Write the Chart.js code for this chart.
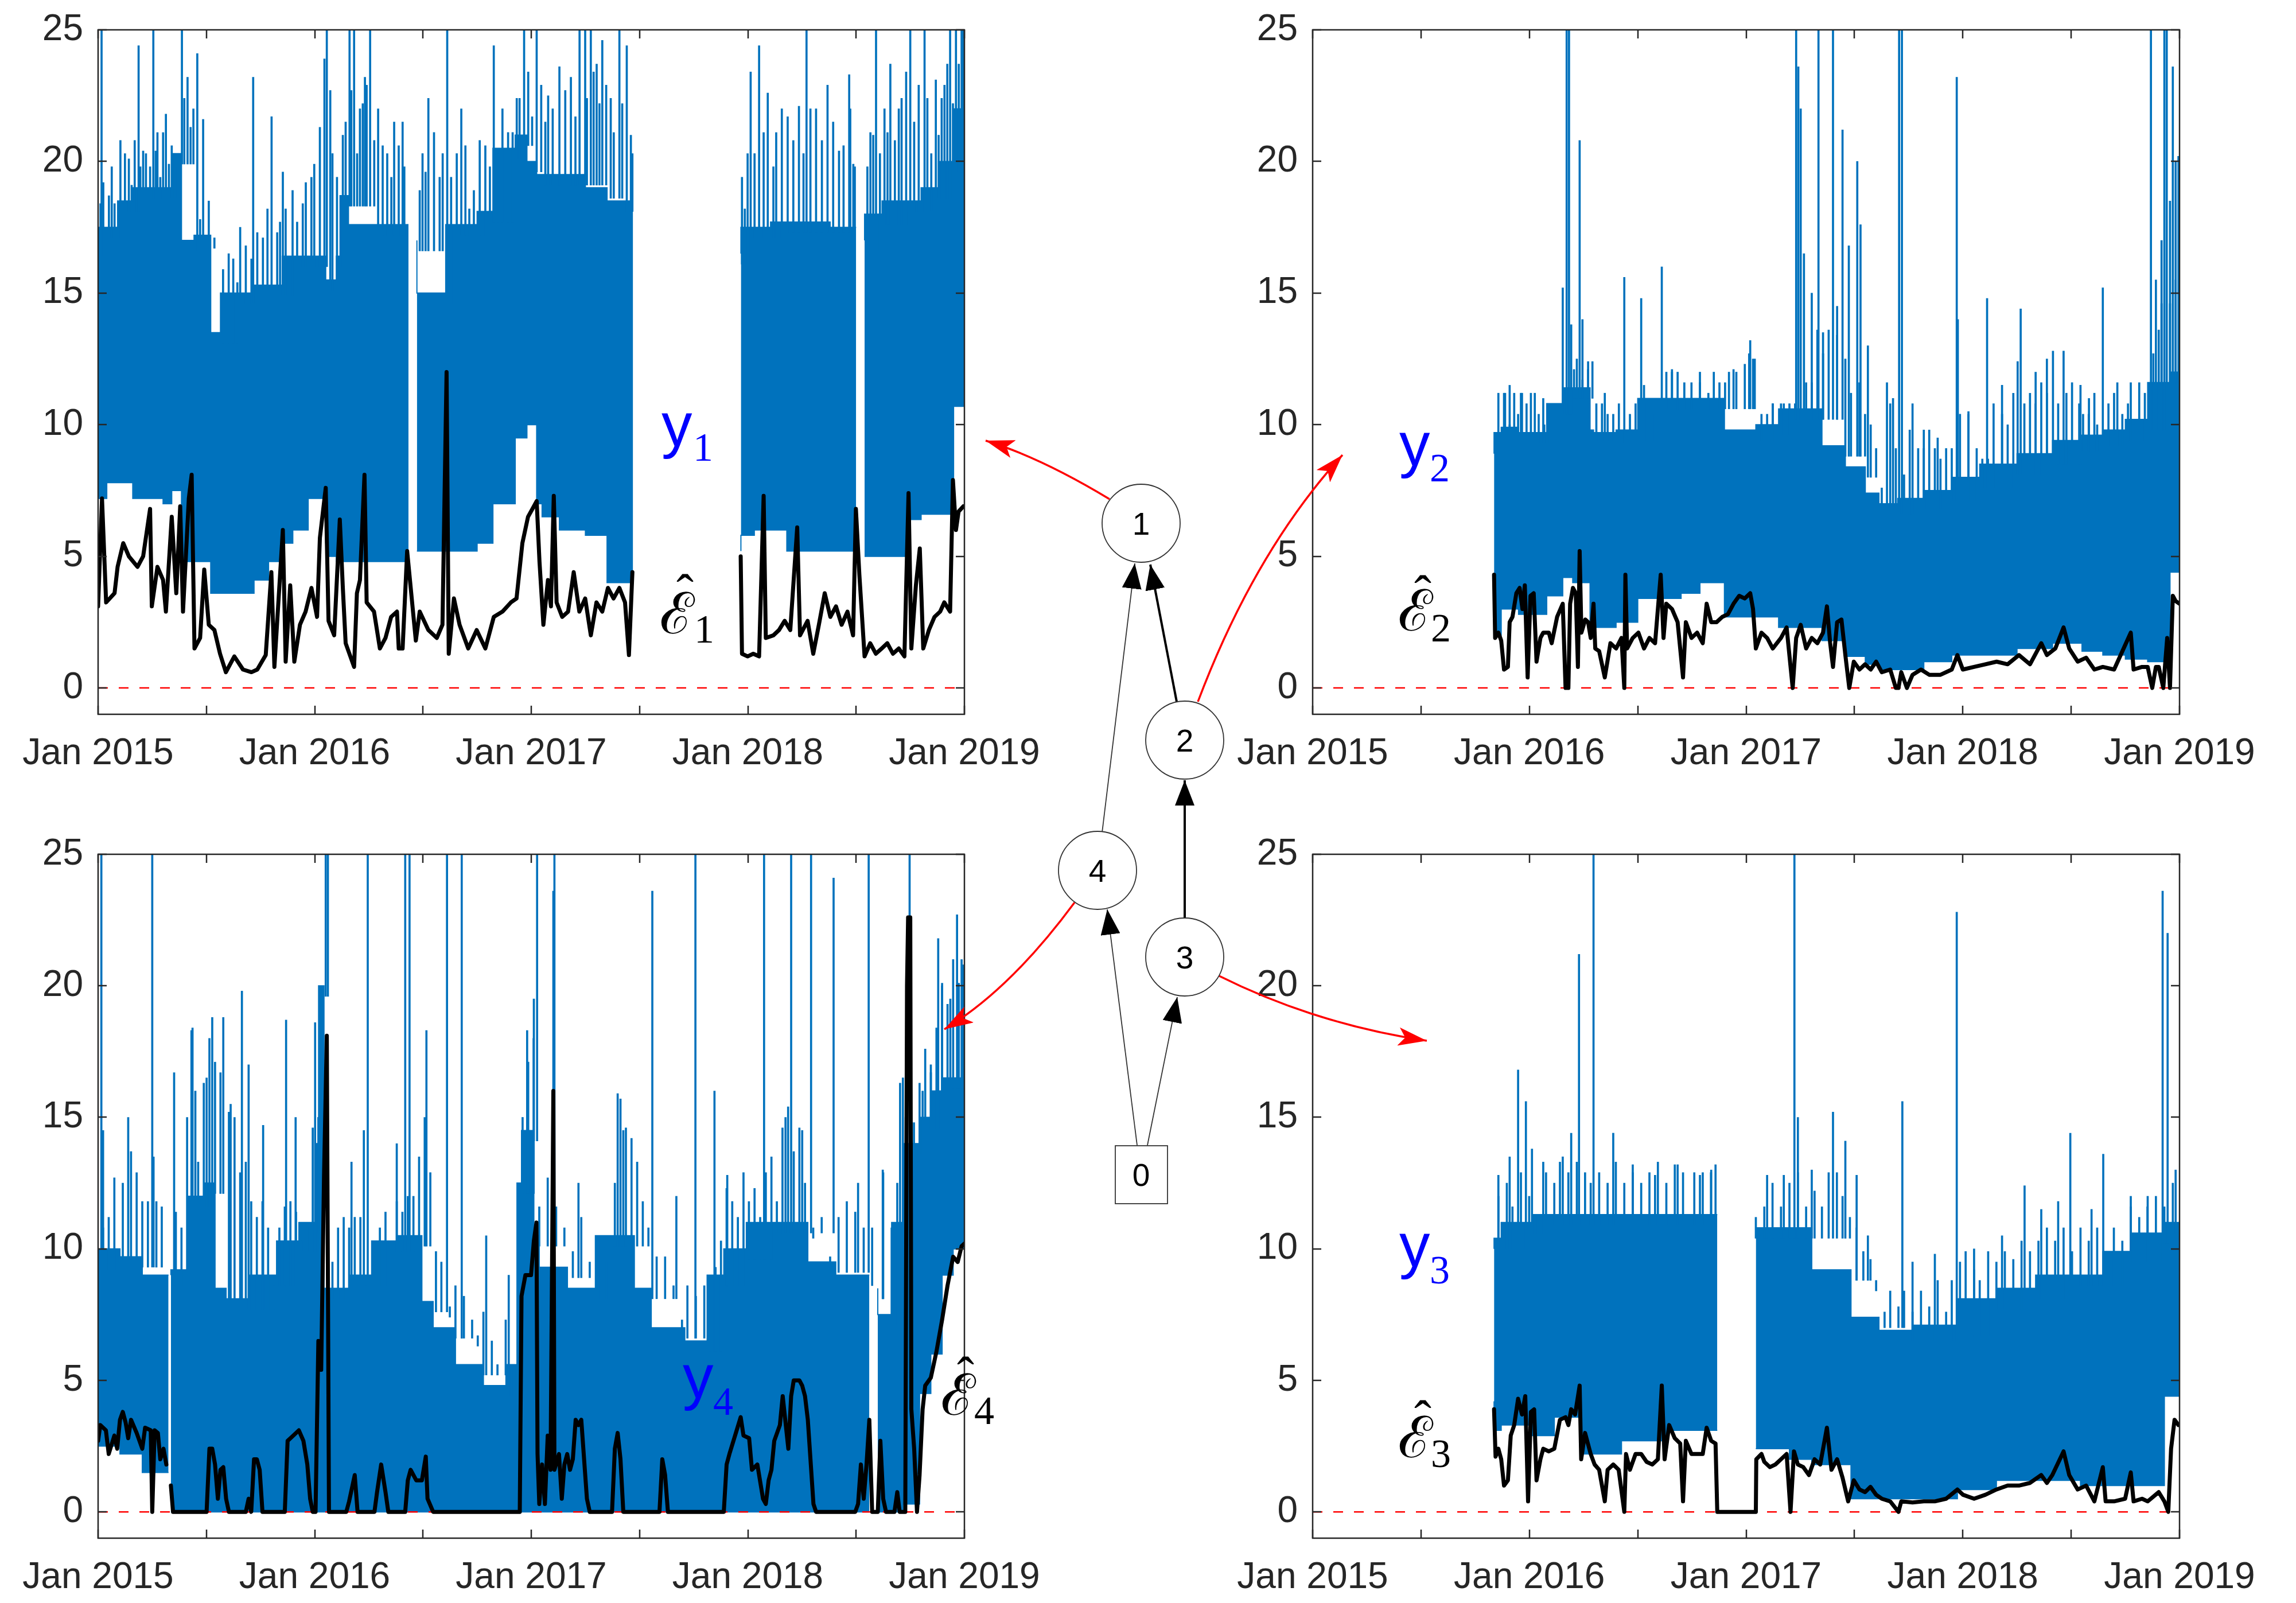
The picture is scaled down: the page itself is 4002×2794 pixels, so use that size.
<!DOCTYPE html>
<html><head><meta charset="utf-8">
<script src="https://cdn.jsdelivr.net/npm/chart.js@4.4.1/dist/chart.umd.min.js"></script>
<style>
html,body{margin:0;padding:0;background:#fff;}
body{width:4002px;height:2794px;position:relative;overflow:hidden;}
canvas{position:absolute;}
svg{position:absolute;left:0;top:0;}
</style></head><body>
<canvas id="c1"></canvas>
<canvas id="c2"></canvas>
<canvas id="c3"></canvas>
<canvas id="c4"></canvas>
<svg width="4002" height="2794" viewBox="0 0 4002 2794" xmlns="http://www.w3.org/2000/svg">
<defs>
<marker id="mb" markerUnits="userSpaceOnUse" markerWidth="44" markerHeight="34" refX="44" refY="17" orient="auto" viewBox="0 0 44 34"><path d="M0,0 L44,17 L0,34 z" fill="#000"/></marker>
<marker id="mr" markerUnits="userSpaceOnUse" markerWidth="50" markerHeight="32" refX="50" refY="16" orient="auto" viewBox="0 0 50 32"><path d="M0,0 L50,16 L0,32 L12,16 z" fill="#f00"/></marker>
</defs>
<g fill="none">
<path d="M1921,1451 L1978,982" stroke="#333" stroke-width="1.8" marker-end="url(#mb)"/>
<path d="M2051,1223 L2005,984" stroke="#000" stroke-width="4" marker-end="url(#mb)"/>
<path d="M2065,1600 L2065,1360" stroke="#000" stroke-width="4" marker-end="url(#mb)"/>
<path d="M1982,1996 L1930,1585" stroke="#333" stroke-width="1.8" marker-end="url(#mb)"/>
<path d="M2000,1996 L2052,1738" stroke="#333" stroke-width="1.8" marker-end="url(#mb)"/>
<path d="M1934,870 Q1813,797 1718,768" stroke="#f00" stroke-width="3.5" marker-end="url(#mr)"/>
<path d="M2088,1223 Q2187,961 2340,793" stroke="#f00" stroke-width="3.5" marker-end="url(#mr)"/>
<path d="M1873,1573 Q1760,1726 1646,1794" stroke="#f00" stroke-width="3.5" marker-end="url(#mr)"/>
<path d="M2125,1701 Q2293,1785 2487,1814" stroke="#f00" stroke-width="3.5" marker-end="url(#mr)"/>
</g>
<g fill="#fff" stroke="#333" stroke-width="1.8">
<circle cx="1989" cy="912" r="68"/>
<circle cx="2065" cy="1290" r="68"/>
<circle cx="1913" cy="1517" r="68"/>
<circle cx="2065" cy="1668" r="68"/>
<rect x="1944" y="1997" width="91" height="101"/>
</g>
<g font-family="Liberation Sans, Arial, sans-serif" font-size="55" fill="#000" text-anchor="middle">
<text x="1989" y="932">1</text>
<text x="2065" y="1310">2</text>
<text x="1913" y="1537">4</text>
<text x="2065" y="1688">3</text>
<text x="1989" y="2067">0</text>
</g>
<g fill="#00f">
<text x="1153" y="778" font-family="Liberation Sans, Arial, sans-serif" font-size="107">y</text>
<text x="1208" y="803" font-family="Liberation Serif, serif" font-size="70">1</text>
<text x="2439" y="812" font-family="Liberation Sans, Arial, sans-serif" font-size="107">y</text>
<text x="2492" y="839" font-family="Liberation Serif, serif" font-size="70">2</text>
<text x="2439" y="2208" font-family="Liberation Sans, Arial, sans-serif" font-size="107">y</text>
<text x="2492" y="2237" font-family="Liberation Serif, serif" font-size="70">3</text>
<text x="1190" y="2437" font-family="Liberation Sans, Arial, sans-serif" font-size="107">y</text>
<text x="1243" y="2466" font-family="Liberation Serif, serif" font-size="70">4</text>
</g>
<g fill="#000">
<text x="1150" y="1104" font-family="DejaVu Serif, serif" font-size="100">ℰ</text>
<text x="1194" y="1064" font-family="Liberation Serif, serif" font-size="90" text-anchor="middle">ˆ</text>
<text x="1210" y="1120" font-family="Liberation Serif, serif" font-size="70">1</text>
<text x="2437" y="1099" font-family="DejaVu Serif, serif" font-size="100">ℰ</text>
<text x="2480" y="1066" font-family="Liberation Serif, serif" font-size="90" text-anchor="middle">ˆ</text>
<text x="2494" y="1118" font-family="Liberation Serif, serif" font-size="70">2</text>
<text x="2437" y="2540" font-family="DejaVu Serif, serif" font-size="100">ℰ</text>
<text x="2480" y="2504" font-family="Liberation Serif, serif" font-size="90" text-anchor="middle">ˆ</text>
<text x="2494" y="2557" font-family="Liberation Serif, serif" font-size="70">3</text>
<text x="1640" y="2466" font-family="DejaVu Serif, serif" font-size="100">ℰ</text>
<text x="1683" y="2428" font-family="Liberation Serif, serif" font-size="90" text-anchor="middle">ˆ</text>
<text x="1698" y="2482" font-family="Liberation Serif, serif" font-size="70">4</text>
</g>
</svg>
<script>
// ---------- axes ----------
const xTickValues = [2015, 2015.5, 2016, 2016.5, 2017, 2017.5, 2018, 2018.5, 2019];
const xTickLabels = ['Jan 2015', '', 'Jan 2016', '', 'Jan 2017', '', 'Jan 2018', '', 'Jan 2019'];
const yTickValues = [0, 5, 10, 15, 20, 25];
const yTickLabels = ['0', '5', '10', '15', '20', '25'];
const yMin = -1, yMax = 25;
const zeroLevel = 0;

// ---------- y1 (top left): dense band [date, low, high] held until next date ----------
const y1Band = [[2015.000,6.8,16.8],[2015.040,7.2,17.5],[2015.090,7.8,17.5],[2015.115,7.8,18.5],[2015.160,7.8,18.5],[2015.230,7.2,19.0],[2015.300,7.2,19.0],[2015.340,7.0,19.0],[2015.385,7.5,20.3],[2015.443,4.8,17.0],[2015.469,4.8,17.2],[2015.520,4.8,17.2],[2015.565,3.6,13.5],[2015.655,3.6,15.0],[2015.720,3.6,15.0],[2015.787,4.1,15.3],[2015.850,4.8,15.3],[2015.899,5.5,16.4],[2015.970,6.0,16.4],[2016.051,7.2,16.4],[2016.060,5.5,15.5],[2016.100,5.0,15.5],[2016.117,4.8,16.4],[2016.156,4.8,18.7],[2016.284,4.8,17.6],[2016.400,4.8,17.6],[2016.433,4.8,17.6],[2016.452,null,null],[2016.472,5.2,17.0],[2016.605,5.2,15.0],[2016.670,5.2,17.6],[2016.750,5.2,17.6],[2016.823,5.5,18.1],[2016.926,7.0,20.5],[2016.980,9.5,21.0],[2017.025,10.0,20.0],[2017.050,7.0,19.5],[2017.130,6.5,19.5],[2017.250,6.0,19.5],[2017.350,5.8,19.0],[2017.440,4.0,18.5],[2017.470,4.0,18.5],[2017.700,null,null],[2017.968,5.2,16.5],[2018.030,5.8,17.5],[2018.105,6.0,17.5],[2018.180,6.0,17.7],[2018.263,5.2,17.7],[2018.380,5.2,17.7],[2018.500,5.2,17.5],[2018.520,null,null],[2018.539,5.0,17.0],[2018.620,5.0,18.0],[2018.737,5.0,18.5],[2018.800,6.4,18.5],[2018.880,6.6,19.0],[2018.950,6.6,20.0],[2018.990,10.7,22.0],[2019.000,10.7,22.0]];
const y1Spikes = [[2015.016,25],[2015.103,20.8],[2015.142,20.1],[2015.187,24.4],[2015.208,20.4],[2015.255,25],[2015.274,21.1],[2015.313,21.8],[2015.353,20.3],[2015.387,25],[2015.413,23.2],[2015.458,24.1],[2015.485,21.6],[2015.603,16.5],[2015.656,17.5],[2015.716,23.2],[2015.735,17.3],[2015.801,21.7],[2015.840,17.7],[2015.853,19.6],[2015.945,18.4],[2015.985,19.4],[2016.045,23.9],[2016.056,25],[2016.072,22.7],[2016.130,21.0],[2016.161,25],[2016.182,25],[2016.209,22.0],[2016.232,23.2],[2016.256,25],[2016.314,20.6],[2016.367,21.5],[2016.406,21.5],[2016.498,20.3],[2016.525,22.4],[2016.577,19.4],[2016.612,25],[2016.677,22.0],[2016.735,18.9],[2016.788,20.6],[2016.827,24.4],[2016.893,21.1],[2016.946,22.4],[2016.967,25],[2017.025,25],[2017.078,22.5],[2017.130,23.6],[2017.183,23.2],[2017.223,25],[2017.249,25],[2017.275,25],[2017.302,23.7],[2017.328,24.6],[2017.367,22.4],[2017.407,25],[2017.441,24.4],[2017.460,21.0],[2017.999,20.3],[2018.013,23.4],[2018.052,24.4],[2018.092,22.6],[2018.131,21.1],[2018.184,21.7],[2018.236,22.1],[2018.271,25],[2018.315,22.0],[2018.368,22.9],[2018.421,20.4],[2018.468,23.3],[2018.487,19.9],[2018.566,21.1],[2018.592,25],[2018.631,22.0],[2018.658,23.7],[2018.710,22.4],[2018.750,25],[2018.789,22.9],[2018.816,25],[2018.868,23.1],[2018.895,22.4],[2018.921,23.7],[2018.934,25],[2018.961,25],[2018.987,25],[2018.995,25]];
const y1Fringe = [[2015.011,18.4],[2015.024,19.2],[2015.050,18.7],[2015.063,19.8],[2015.076,18.4],[2015.124,20.3],[2015.155,19.1],[2015.169,20.8],[2015.195,19.8],[2015.221,20.3],[2015.240,19.8],[2015.266,20.4],[2015.287,19.4],[2015.300,21.1],[2015.327,19.9],[2015.340,20.6],[2015.366,19.8],[2015.398,22.4],[2015.427,21.3],[2015.440,22.0],[2015.471,17.8],[2015.511,18.5],[2015.537,17.1],[2015.577,15.9],[2015.624,16.3],[2015.643,15.4],[2015.682,16.8],[2015.708,16.3],[2015.761,17.1],[2015.782,18.2],[2015.827,17.3],[2015.866,18.2],[2015.898,18.9],[2015.919,17.7],[2015.959,19.2],[2015.998,19.9],[2016.024,21.3],[2016.082,20.3],[2016.103,19.4],[2016.143,21.5],[2016.169,22.7],[2016.196,20.3],[2016.222,22.2],[2016.240,22.9],[2016.275,20.8],[2016.293,22.0],[2016.335,20.3],[2016.354,19.4],[2016.388,20.6],[2016.414,19.8],[2016.485,18.9],[2016.512,19.6],[2016.551,21.1],[2016.591,20.3],[2016.630,19.4],[2016.656,20.3],[2016.696,20.6],[2016.714,18.2],[2016.762,20.8],[2016.809,19.8],[2016.846,20.3],[2016.867,22.0],[2016.914,21.1],[2016.933,22.4],[2016.986,23.4],[2017.004,21.7],[2017.046,22.9],[2017.065,21.5],[2017.099,22.0],[2017.157,22.7],[2017.204,21.7],[2017.257,22.4],[2017.288,23.4],[2017.315,22.2],[2017.346,22.9],[2017.381,21.1],[2017.420,22.2],[2017.467,20.3],[2017.973,19.4],[2017.986,18.2],[2018.031,20.3],[2018.073,21.1],[2018.118,19.8],[2018.157,22.0],[2018.210,20.8],[2018.257,20.3],[2018.289,22.0],[2018.342,20.8],[2018.394,21.5],[2018.442,20.6],[2018.473,22.0],[2018.494,19.8],[2018.552,19.8],[2018.579,21.0],[2018.610,20.3],[2018.645,21.1],[2018.679,20.8],[2018.697,22.0],[2018.731,23.4],[2018.768,21.5],[2018.829,22.4],[2018.847,20.3],[2018.881,21.0],[2018.908,22.9],[2018.947,22.2],[2018.974,23.7]];
const e1Line = [[2015.000,3.1],[2015.018,7.2],[2015.037,3.25],[2015.076,3.6],[2015.090,4.6],[2015.116,5.5],[2015.142,5.0],[2015.182,4.6],[2015.208,5.0],[2015.240,6.8],[2015.248,3.1],[2015.274,4.6],[2015.300,4.1],[2015.313,2.9],[2015.340,6.5],[2015.361,3.6],[2015.379,6.9],[2015.392,2.9],[2015.419,7.2],[2015.432,8.1],[2015.445,1.5],[2015.471,1.9],[2015.490,4.5],[2015.511,2.4],[2015.537,2.2],[2015.563,1.3],[2015.590,0.6],[2015.629,1.2],[2015.669,0.7],[2015.708,0.6],[2015.735,0.7],[2015.774,1.25],[2015.800,4.4],[2015.814,0.8],[2015.853,6.0],[2015.866,1.0],[2015.887,3.9],[2015.906,1.0],[2015.932,2.4],[2015.958,2.9],[2015.985,3.8],[2016.011,2.7],[2016.024,5.7],[2016.051,7.6],[2016.064,2.55],[2016.090,2.0],[2016.116,6.4],[2016.130,3.8],[2016.143,1.7],[2016.182,0.8],[2016.195,3.6],[2016.209,4.1],[2016.230,8.1],[2016.240,3.25],[2016.274,2.9],[2016.301,1.5],[2016.327,1.9],[2016.353,2.7],[2016.380,2.9],[2016.388,1.5],[2016.406,1.5],[2016.427,5.2],[2016.467,1.8],[2016.485,2.9],[2016.525,2.2],[2016.564,1.9],[2016.590,2.4],[2016.609,12.0],[2016.619,1.3],[2016.643,3.4],[2016.669,2.4],[2016.709,1.5],[2016.748,2.2],[2016.788,1.5],[2016.827,2.7],[2016.867,2.9],[2016.906,3.25],[2016.932,3.4],[2016.959,5.5],[2016.985,6.5],[2017.012,6.9],[2017.025,7.1],[2017.038,4.8],[2017.056,2.4],[2017.077,4.1],[2017.091,3.1],[2017.104,7.3],[2017.117,3.25],[2017.143,2.7],[2017.170,2.9],[2017.196,4.4],[2017.222,2.9],[2017.249,3.4],[2017.275,2.0],[2017.301,3.25],[2017.328,2.9],[2017.354,3.8],[2017.380,3.4],[2017.407,3.8],[2017.433,3.25],[2017.451,1.25],[2017.467,4.4],[2017.700,null],[2017.967,5.0],[2017.973,1.3],[2017.999,1.2],[2018.025,1.3],[2018.052,1.2],[2018.073,7.3],[2018.083,1.9],[2018.118,2.0],[2018.144,2.2],[2018.170,2.55],[2018.196,2.2],[2018.228,6.1],[2018.241,2.0],[2018.276,2.55],[2018.302,1.3],[2018.328,2.4],[2018.355,3.6],[2018.381,2.7],[2018.407,3.1],[2018.433,2.4],[2018.460,2.9],[2018.486,2.0],[2018.499,6.8],[2018.515,4.3],[2018.539,1.2],[2018.565,1.7],[2018.591,1.3],[2018.618,1.5],[2018.644,1.7],[2018.670,1.3],[2018.697,1.5],[2018.723,1.2],[2018.742,7.4],[2018.755,1.5],[2018.776,3.9],[2018.794,5.3],[2018.810,1.5],[2018.836,2.2],[2018.862,2.7],[2018.888,2.9],[2018.907,3.25],[2018.934,2.9],[2018.947,7.9],[2018.961,6.0],[2018.973,6.7],[2018.995,6.9]];

// ---------- y2 (top right) ----------
const y2Band = [[2015.837,2.7,8.9],[2015.870,2.0,9.7],[2015.950,3.0,9.9],[2016.012,2.8,9.7],[2016.080,2.8,9.7],[2016.154,3.5,10.8],[2016.200,4.2,11.4],[2016.280,4.0,11.4],[2016.296,2.5,9.8],[2016.400,2.3,9.7],[2016.500,2.5,9.8],[2016.606,3.4,11.0],[2016.700,3.4,11.0],[2016.787,3.6,11.0],[2016.900,4.0,11.0],[2017.045,2.7,9.8],[2017.150,2.7,10.0],[2017.226,2.3,10.6],[2017.350,2.3,10.6],[2017.458,1.8,9.2],[2017.550,1.2,8.4],[2017.613,0.9,7.4],[2017.700,0.7,7.0],[2017.820,0.7,7.2],[2017.949,1.0,7.5],[2018.078,1.25,8.0],[2018.250,1.25,8.5],[2018.414,1.5,8.9],[2018.550,1.7,9.4],[2018.646,1.4,9.6],[2018.750,1.25,9.8],[2018.853,1.1,10.2],[2018.956,1.0,11.6],[2018.980,4.4,12.0],[2019.000,4.4,12.0]];
const y2Spikes = [[2015.883,11.2],[2015.909,11.5],[2015.961,11.2],[2016.064,11.0],[2016.154,15.2],[2016.172,25],[2016.183,25],[2016.193,13.8],[2016.232,20.8],[2016.245,14.0],[2016.271,12.4],[2016.348,11.2],[2016.438,15.6],[2016.516,14.8],[2016.529,11.5],[2016.611,16.0],[2016.658,12.1],[2016.787,12.0],[2016.942,12.1],[2017.019,13.2],[2017.032,12.5],[2017.123,10.8],[2017.174,10.8],[2017.231,25],[2017.241,23.6],[2017.252,22.0],[2017.267,16.5],[2017.303,15.0],[2017.334,25],[2017.355,13.5],[2017.401,25],[2017.420,14.5],[2017.445,21.2],[2017.474,16.8],[2017.513,20.0],[2017.528,17.6],[2017.562,13.0],[2017.650,11.6],[2017.678,11.0],[2017.706,25],[2017.719,25],[2017.768,10.8],[2017.820,9.8],[2017.884,9.5],[2017.972,23.2],[2017.977,14.0],[2018.026,10.5],[2018.112,14.8],[2018.181,11.5],[2018.267,14.4],[2018.336,12.0],[2018.388,12.5],[2018.416,12.8],[2018.465,12.8],[2018.543,11.5],[2018.582,11.0],[2018.646,15.2],[2018.713,11.6],[2018.775,11.6],[2018.868,25],[2018.891,15.5],[2018.917,17.0],[2018.930,25],[2018.941,25],[2018.956,18.5],[2018.969,23.6],[2018.982,20.0],[2018.995,20.2]];
const y2Fringe = [[2015.857,11.2],[2015.888,11.2],[2015.909,10.0],[2015.930,11.2],[2015.948,10.4],[2015.966,11.2],[2015.987,10.8],[2016.007,11.2],[2016.025,11.2],[2016.043,10.4],[2016.069,10.0],[2016.095,10.4],[2016.121,10.4],[2016.206,12.1],[2016.219,12.5],[2016.245,11.7],[2016.271,12.1],[2016.291,12.4],[2016.309,10.8],[2016.335,10.8],[2016.361,10.4],[2016.387,10.4],[2016.413,10.8],[2016.464,10.4],[2016.490,10.8],[2016.542,10.8],[2016.568,10.4],[2016.594,10.4],[2016.632,12.0],[2016.658,12.0],[2016.684,12.0],[2016.715,11.6],[2016.748,11.6],[2016.787,11.6],[2016.826,11.2],[2016.851,12.0],[2016.877,11.6],[2016.903,11.6],[2016.921,12.0],[2016.955,12.0],[2016.994,12.3],[2017.014,12.7],[2017.040,12.5],[2017.071,10.4],[2017.097,10.4],[2017.123,10.8],[2017.161,10.8],[2017.200,10.8],[2017.226,10.8],[2017.277,11.6],[2017.303,11.6],[2017.329,13.6],[2017.355,12.7],[2017.381,13.6],[2017.420,13.4],[2017.458,12.5],[2017.484,11.2],[2017.523,11.6],[2017.549,10.4],[2017.575,10.0],[2017.600,9.1],[2017.626,7.6],[2017.665,10.8],[2017.691,9.1],[2017.729,8.1],[2017.755,9.8],[2017.794,9.1],[2017.820,9.1],[2017.845,9.8],[2017.871,9.1],[2017.897,8.7],[2017.923,9.1],[2017.949,9.1],[2017.987,10.4],[2018.026,10.4],[2018.064,9.1],[2018.090,8.7],[2018.116,8.7],[2018.142,10.8],[2018.181,10.4],[2018.207,10.0],[2018.233,11.2],[2018.253,12.4],[2018.284,10.8],[2018.310,11.2],[2018.336,10.8],[2018.362,11.6],[2018.388,11.2],[2018.440,10.8],[2018.478,11.2],[2018.504,11.6],[2018.537,10.8],[2018.555,10.4],[2018.581,10.4],[2018.607,11.2],[2018.620,10.0],[2018.672,10.8],[2018.698,11.2],[2018.736,10.4],[2018.762,10.8],[2018.788,10.0],[2018.814,11.6],[2018.840,11.2],[2018.879,12.7],[2018.904,13.6],[2018.917,14.6],[2018.956,14.6],[2018.982,15.5]];
const e2Line = [[2015.837,4.3],[2015.842,1.9],[2015.857,2.1],[2015.870,1.8],[2015.883,0.7],[2015.901,0.8],[2015.909,2.5],[2015.922,2.7],[2015.940,3.6],[2015.955,3.8],[2015.968,3.0],[2015.979,3.9],[2015.992,0.4],[2016.005,3.5],[2016.020,3.6],[2016.033,1.0],[2016.051,1.9],[2016.064,2.1],[2016.090,2.1],[2016.103,1.7],[2016.128,2.7],[2016.154,3.2],[2016.167,0],[2016.180,0],[2016.188,3.2],[2016.201,3.8],[2016.214,3.6],[2016.224,0.8],[2016.232,5.2],[2016.240,2.1],[2016.258,2.6],[2016.271,2.5],[2016.283,1.9],[2016.296,3.2],[2016.304,1.5],[2016.322,1.4],[2016.348,0.4],[2016.374,1.7],[2016.400,1.5],[2016.425,1.9],[2016.438,0],[2016.443,4.3],[2016.451,1.5],[2016.477,1.9],[2016.503,2.1],[2016.529,1.5],[2016.554,1.9],[2016.580,1.7],[2016.606,4.3],[2016.619,1.9],[2016.632,3.2],[2016.658,3.0],[2016.684,2.5],[2016.709,0.4],[2016.722,2.5],[2016.748,1.9],[2016.774,2.1],[2016.800,1.7],[2016.818,3.2],[2016.839,2.5],[2016.864,2.5],[2016.890,2.7],[2016.916,2.8],[2016.942,3.2],[2016.968,3.5],[2016.994,3.4],[2017.019,3.6],[2017.032,3.0],[2017.045,1.5],[2017.071,2.1],[2017.097,1.9],[2017.123,1.5],[2017.161,1.9],[2017.187,2.3],[2017.215,0],[2017.231,1.9],[2017.252,2.4],[2017.277,1.5],[2017.303,1.9],[2017.329,1.7],[2017.355,2.1],[2017.373,3.1],[2017.388,1.7],[2017.401,0.8],[2017.420,2.5],[2017.440,2.6],[2017.458,1.25],[2017.476,0],[2017.497,1.0],[2017.523,0.7],[2017.549,0.9],[2017.575,0.7],[2017.600,1.0],[2017.626,0.6],[2017.665,0.7],[2017.691,0],[2017.703,0],[2017.716,0.6],[2017.742,0],[2017.768,0.5],[2017.807,0.7],[2017.845,0.5],[2017.897,0.5],[2017.949,0.7],[2017.975,1.25],[2018.000,0.7],[2018.052,0.8],[2018.104,0.9],[2018.156,1.0],[2018.207,0.9],[2018.259,1.25],[2018.310,0.9],[2018.362,1.7],[2018.388,1.25],[2018.427,1.5],[2018.465,2.3],[2018.491,1.5],[2018.530,1.0],[2018.569,1.15],[2018.607,0.7],[2018.646,0.8],[2018.698,0.7],[2018.775,2.1],[2018.788,0.7],[2018.827,0.8],[2018.853,0.8],[2018.874,0],[2018.891,0.8],[2018.904,0.8],[2018.925,0],[2018.943,1.9],[2018.956,0],[2018.969,3.5],[2018.982,3.3],[2019.000,3.2]];

// ---------- y3 (bottom right) ----------
const y3Band = [[2015.837,4.2,10.0],[2015.870,3.1,10.4],[2016.012,3.3,11.0],[2016.115,2.9,11.3],[2016.245,3.6,11.3],[2016.300,2.2,11.3],[2016.425,2.2,11.3],[2016.632,2.7,11.3],[2016.787,3.1,11.3],[2016.867,3.1,11.3],[2016.872,null,null],[2017.045,2.4,10.8],[2017.200,2.4,10.8],[2017.303,2.0,10.8],[2017.484,1.8,9.2],[2017.613,0.5,7.4],[2017.768,0.5,6.9],[2017.975,0.5,7.1],[2018.155,0.85,8.1],[2018.336,1.2,8.5],[2018.543,1.2,9.0],[2018.646,1.0,9.0],[2018.775,1.0,9.9],[2018.930,1.0,10.6],[2018.956,4.4,11.0],[2019.000,4.4,11.0]];
const y3Spikes = [[2015.857,12.8],[2015.909,13.5],[2015.948,16.8],[2015.984,15.6],[2016.012,13.8],[2016.064,13.3],[2016.141,13.3],[2016.193,14.4],[2016.229,21.2],[2016.296,25],[2016.387,14.4],[2016.477,13.2],[2016.580,12.8],[2016.684,13.2],[2016.787,12.8],[2016.839,13.0],[2017.097,12.8],[2017.174,12.8],[2017.223,25],[2017.239,15.0],[2017.303,13.0],[2017.401,15.2],[2017.458,14.1],[2017.510,12.8],[2017.562,10.5],[2017.721,15.6],[2017.768,9.5],[2017.871,9.8],[2017.972,22.8],[2018.052,10.0],[2018.181,10.5],[2018.285,12.4],[2018.362,11.5],[2018.440,11.8],[2018.496,14.4],[2018.594,11.5],[2018.648,13.6],[2018.775,12.0],[2018.853,12.0],[2018.922,23.6],[2018.945,22.0],[2018.982,13.0]];
const y3Fringe = [[2015.857,12.0],[2015.896,12.5],[2015.922,11.6],[2015.961,12.9],[2015.999,12.0],[2016.038,11.2],[2016.077,12.9],[2016.115,12.5],[2016.154,13.5],[2016.180,12.9],[2016.219,13.3],[2016.257,12.9],[2016.283,12.5],[2016.322,12.9],[2016.361,12.5],[2016.399,13.3],[2016.438,12.5],[2016.477,12.9],[2016.516,12.5],[2016.554,12.9],[2016.593,13.3],[2016.632,12.5],[2016.671,13.2],[2016.709,12.9],[2016.761,12.9],[2016.800,12.9],[2016.838,12.9],[2016.859,13.2],[2017.045,11.2],[2017.084,11.6],[2017.122,12.5],[2017.161,11.6],[2017.200,12.5],[2017.239,12.9],[2017.277,11.6],[2017.316,12.2],[2017.350,11.6],[2017.381,12.9],[2017.419,12.9],[2017.445,12.0],[2017.479,11.2],[2017.510,10.8],[2017.541,9.9],[2017.574,9.6],[2017.600,8.8],[2017.639,7.6],[2017.665,8.4],[2017.703,7.8],[2017.729,8.4],[2017.768,7.6],[2017.807,8.4],[2017.845,7.8],[2017.884,8.8],[2017.923,7.6],[2017.949,8.8],[2017.987,9.5],[2018.013,9.9],[2018.052,9.2],[2018.078,8.8],[2018.117,9.9],[2018.155,9.5],[2018.194,9.9],[2018.233,9.6],[2018.271,10.3],[2018.310,9.9],[2018.349,10.3],[2018.388,10.8],[2018.426,10.3],[2018.465,10.8],[2018.504,9.9],[2018.543,10.8],[2018.581,10.3],[2018.620,10.8],[2018.659,9.9],[2018.697,10.8],[2018.736,10.3],[2018.775,11.6],[2018.814,11.2],[2018.852,11.6],[2018.891,12.0],[2018.930,11.6],[2018.969,12.5]];
const e3Line = [[2015.837,3.9],[2015.844,2.1],[2015.857,2.4],[2015.870,2.0],[2015.883,1.0],[2015.901,1.2],[2015.914,2.9],[2015.930,3.3],[2015.948,4.3],[2015.966,3.7],[2015.981,4.4],[2015.994,0.4],[2016.007,3.8],[2016.022,3.9],[2016.033,1.2],[2016.051,2.0],[2016.064,2.4],[2016.090,2.3],[2016.115,2.4],[2016.141,3.5],[2016.167,3.6],[2016.180,3.3],[2016.193,3.9],[2016.211,3.7],[2016.232,4.8],[2016.239,2.0],[2016.257,3.0],[2016.283,2.2],[2016.301,1.8],[2016.322,1.6],[2016.348,0.4],[2016.361,1.6],[2016.387,1.8],[2016.412,1.6],[2016.438,0],[2016.446,2.2],[2016.464,1.6],[2016.490,2.2],[2016.516,2.2],[2016.541,1.9],[2016.567,1.8],[2016.593,2.0],[2016.611,4.8],[2016.624,2.0],[2016.645,3.3],[2016.671,2.8],[2016.696,2.6],[2016.709,0.4],[2016.722,2.7],[2016.748,2.2],[2016.774,2.2],[2016.800,2.2],[2016.818,3.2],[2016.839,2.7],[2016.859,2.6],[2016.867,0],[2017.045,0],[2017.047,2.0],[2017.071,2.2],[2017.084,1.9],[2017.110,1.7],[2017.135,1.8],[2017.161,2.0],[2017.187,2.2],[2017.205,0],[2017.221,2.3],[2017.239,1.8],[2017.264,1.7],[2017.290,1.4],[2017.316,2.0],[2017.342,1.8],[2017.373,3.2],[2017.394,1.6],[2017.420,2.0],[2017.445,1.3],[2017.471,0.4],[2017.497,1.2],[2017.523,0.85],[2017.549,0.75],[2017.574,0.95],[2017.600,0.65],[2017.626,0.5],[2017.665,0.4],[2017.703,0],[2017.716,0.4],[2017.768,0.36],[2017.820,0.4],[2017.871,0.4],[2017.923,0.5],[2017.975,0.85],[2018.001,0.65],[2018.052,0.5],[2018.104,0.65],[2018.155,0.85],[2018.207,1.0],[2018.259,1.0],[2018.310,1.1],[2018.362,1.4],[2018.388,1.1],[2018.413,1.4],[2018.465,2.3],[2018.491,1.4],[2018.530,0.85],[2018.569,1.0],[2018.607,0.4],[2018.646,1.7],[2018.659,0.4],[2018.698,0.4],[2018.749,0.5],[2018.775,1.5],[2018.788,0.4],[2018.827,0.5],[2018.853,0.4],[2018.904,0.75],[2018.930,0.4],[2018.948,0],[2018.961,2.4],[2018.977,3.5],[2018.995,3.3]];

// ---------- y4 (bottom left) ----------
const y4Band = [[2015.000,2.5,9.6],[2015.101,2.5,10.0],[2015.204,2.2,9.7],[2015.325,1.5,9.0],[2015.330,null,null],[2015.336,0,9.0],[2015.411,0,9.2],[2015.488,0,12.0],[2015.540,0,12.5],[2015.591,0,8.5],[2015.695,0,8.1],[2015.824,0,9.0],[2015.927,0,10.3],[2016.005,0,11.0],[2016.018,0,14.0],[2016.043,0,20.0],[2016.069,0,8.5],[2016.159,0,8.5],[2016.263,0,9.0],[2016.379,0,10.3],[2016.495,0,10.5],[2016.547,0,8.0],[2016.650,0,7.0],[2016.779,0,5.6],[2016.883,0,4.8],[2016.934,0,5.6],[2016.955,0,12.5],[2017.012,0,14.5],[2017.037,0,10.5],[2017.167,0,9.3],[2017.296,0,8.5],[2017.386,0,10.5],[2017.476,0,10.5],[2017.554,0,8.5],[2017.709,0,7.0],[2017.812,0,6.5],[2017.889,0,9.0],[2017.993,0,10.0],[2018.122,0,11.0],[2018.277,0,11.0],[2018.406,0,9.5],[2018.561,0,9.0],[2018.580,null,null],[2018.600,0,8.5],[2018.664,0,7.5],[2018.716,0,11.0],[2018.793,0.3,14.0],[2018.845,4.5,15.0],[2018.897,6.0,16.0],[2018.948,9.0,16.5],[2019.000,10.0,16.5]];
const y4Spikes = [[2015.015,25],[2015.023,14.5],[2015.139,15.0],[2015.250,25],[2015.256,13.5],[2015.351,16.7],[2015.431,18.3],[2015.449,16.0],[2015.501,16.5],[2015.527,18.8],[2015.578,18.8],[2015.612,15.5],[2015.664,19.8],[2015.695,17.0],[2015.762,14.7],[2015.868,18.7],[2015.912,15.0],[2016.002,18.6],[2016.051,25],[2016.061,25],[2016.170,13.3],[2016.227,14.5],[2016.245,25],[2016.379,14.0],[2016.418,25],[2016.438,25],[2016.516,18.3],[2016.611,25],[2016.679,25],[2016.792,10.5],[2016.896,9.0],[2016.981,18.3],[2017.012,19.5],[2017.027,25],[2017.102,23.6],[2017.107,25],[2017.218,12.5],[2017.399,15.9],[2017.425,14.5],[2017.559,23.6],[2017.670,12.0],[2017.758,25],[2017.846,16.0],[2017.905,12.8],[2018.075,25],[2018.174,15.0],[2018.200,25],[2018.251,14.5],[2018.292,25],[2018.396,24.1],[2018.509,12.5],[2018.558,25],[2018.623,13.0],[2018.690,12.5],[2018.716,16.5],[2018.747,25],[2018.807,16.0],[2018.845,17.0],[2018.879,21.8],[2018.897,20.0],[2018.935,19.5],[2018.966,22.7],[2018.987,21.0]];
const y4Fringe = [[2015.023,10.8],[2015.049,11.2],[2015.075,12.7],[2015.114,12.5],[2015.152,13.7],[2015.178,12.9],[2015.204,11.8],[2015.230,11.8],[2015.269,11.8],[2015.294,11.6],[2015.359,11.4],[2015.385,10.8],[2015.411,15.0],[2015.436,18.4],[2015.462,13.3],[2015.488,16.3],[2015.514,18.0],[2015.540,17.1],[2015.565,16.7],[2015.604,15.2],[2015.630,15.0],[2015.656,12.9],[2015.682,13.3],[2015.707,11.8],[2015.733,11.2],[2015.759,11.8],[2015.785,10.8],[2015.811,8.6],[2015.837,10.8],[2015.862,11.6],[2015.888,11.8],[2015.914,11.4],[2015.940,10.3],[2015.966,10.8],[2015.991,14.6],[2016.017,15.0],[2016.082,9.5],[2016.108,10.8],[2016.134,11.2],[2016.159,10.8],[2016.185,11.2],[2016.211,11.2],[2016.237,8.6],[2016.276,9.5],[2016.301,10.8],[2016.327,11.4],[2016.353,10.3],[2016.379,11.8],[2016.405,11.4],[2016.430,12.0],[2016.456,12.0],[2016.482,13.5],[2016.508,15.0],[2016.534,12.9],[2016.560,9.9],[2016.585,9.5],[2016.624,7.8],[2016.650,8.6],[2016.689,8.2],[2016.727,7.3],[2016.753,6.7],[2016.779,7.6],[2016.818,6.5],[2016.844,5.6],[2016.882,7.3],[2016.908,5.4],[2016.960,15.0],[2016.986,17.1],[2017.011,18.0],[2017.037,11.6],[2017.076,12.7],[2017.115,11.6],[2017.153,10.8],[2017.192,9.9],[2017.231,11.2],[2017.270,9.5],[2017.308,10.3],[2017.347,9.5],[2017.386,12.5],[2017.412,15.7],[2017.437,14.6],[2017.463,14.2],[2017.489,13.3],[2017.515,11.8],[2017.541,10.8],[2017.579,9.7],[2017.618,9.7],[2017.657,8.6],[2017.696,7.3],[2017.721,8.6],[2017.760,8.2],[2017.799,8.6],[2017.825,7.3],[2017.851,9.3],[2017.876,10.3],[2017.902,12.3],[2017.928,11.8],[2017.954,11.2],[2017.980,12.9],[2018.005,11.8],[2018.031,12.3],[2018.057,11.2],[2018.083,12.9],[2018.109,13.5],[2018.134,11.8],[2018.160,14.6],[2018.186,15.4],[2018.212,13.7],[2018.238,14.6],[2018.264,12.5],[2018.302,10.8],[2018.341,11.2],[2018.380,9.7],[2018.419,11.2],[2018.457,11.8],[2018.496,11.4],[2018.535,10.8],[2018.574,10.8],[2018.625,12.9],[2018.664,10.8],[2018.703,16.3],[2018.729,15.0],[2018.767,14.8],[2018.793,16.3],[2018.819,17.6],[2018.845,16.7],[2018.871,18.4],[2018.897,20.1],[2018.922,19.3],[2018.948,21.0],[2018.974,20.1],[2018.995,20.8]];
const e4Line = [[2015.000,2.7],[2015.010,3.3],[2015.036,3.1],[2015.049,2.2],[2015.075,2.9],[2015.088,2.4],[2015.101,3.5],[2015.114,3.8],[2015.127,3.4],[2015.139,2.8],[2015.152,3.5],[2015.178,3.0],[2015.204,2.4],[2015.217,3.2],[2015.243,3.1],[2015.250,0],[2015.261,3.1],[2015.276,3.0],[2015.287,2.0],[2015.302,2.4],[2015.315,1.8],[2015.330,null],[2015.336,1.0],[2015.346,0],[2015.501,0],[2015.514,2.4],[2015.527,2.4],[2015.540,1.8],[2015.553,0.5],[2015.565,1.6],[2015.578,1.7],[2015.591,0.5],[2015.604,0],[2015.682,0],[2015.695,0.5],[2015.707,0],[2015.720,2.0],[2015.733,2.0],[2015.746,1.6],[2015.759,0],[2015.862,0],[2015.875,2.7],[2015.901,2.9],[2015.927,3.1],[2015.948,2.7],[2015.966,1.8],[2015.979,0.5],[2015.991,0],[2016.004,0],[2016.017,6.5],[2016.030,5.4],[2016.043,12.7],[2016.056,18.1],[2016.066,0],[2016.146,0],[2016.159,0.4],[2016.185,1.4],[2016.198,0],[2016.276,0],[2016.288,0.75],[2016.307,1.8],[2016.327,0.75],[2016.340,0],[2016.418,0],[2016.430,1.2],[2016.443,1.6],[2016.469,1.2],[2016.495,1.2],[2016.513,2.1],[2016.521,0.5],[2016.547,0],[2016.947,0],[2016.955,8.2],[2016.973,9.0],[2016.999,9.0],[2017.012,10.3],[2017.024,11.0],[2017.029,2.2],[2017.037,0.3],[2017.050,1.8],[2017.063,0.3],[2017.076,2.9],[2017.089,1.6],[2017.102,16.0],[2017.107,1.6],[2017.128,2.2],[2017.141,0.5],[2017.153,1.8],[2017.166,2.2],[2017.179,1.6],[2017.192,2.0],[2017.205,3.5],[2017.218,3.3],[2017.231,3.5],[2017.244,2.0],[2017.257,0.5],[2017.270,0],[2017.373,0],[2017.386,2.4],[2017.399,3.0],[2017.412,2.0],[2017.425,0],[2017.592,0],[2017.605,2.0],[2017.618,1.4],[2017.631,0],[2017.889,0],[2017.902,1.8],[2017.915,2.2],[2017.941,2.9],[2017.967,3.6],[2017.980,2.9],[2018.006,2.8],[2018.019,1.6],[2018.044,1.8],[2018.070,0.5],[2018.083,0.3],[2018.096,1.2],[2018.109,1.6],[2018.122,2.7],[2018.148,3.3],[2018.161,4.4],[2018.174,3.4],[2018.187,2.4],[2018.200,4.4],[2018.212,5.0],[2018.238,5.0],[2018.251,4.8],[2018.264,4.4],[2018.277,3.5],[2018.303,0.3],[2018.315,0],[2018.496,0],[2018.509,0.3],[2018.522,1.8],[2018.535,0.5],[2018.548,1.8],[2018.561,3.5],[2018.574,0],[2018.600,0],[2018.612,2.7],[2018.625,0.5],[2018.638,0],[2018.677,0],[2018.690,0.75],[2018.701,0],[2018.727,0],[2018.735,20.0],[2018.740,22.6],[2018.750,22.6],[2018.755,3.9],[2018.768,2.4],[2018.781,0],[2018.793,1.4],[2018.807,3.9],[2018.819,4.8],[2018.845,5.1],[2018.871,6.1],[2018.897,7.3],[2018.922,8.6],[2018.948,9.7],[2018.969,9.5],[2018.987,10.1],[2019.000,10.2]];

// ---------- styling / layout ----------
const BLUE = '#0072BD', AXIS = '#262626';
const PLOT_W_LEFT = 171, PAD_TOP = 40, PAD_RIGHT = 160, XAXIS_H = 130;
const panels = [
  {id: 'c1', left: 171, top: 52, w: 1510, h: 1193, band: y1Band, spikes: y1Spikes.concat(y1Fringe), est: e1Line},
  {id: 'c2', left: 2288, top: 52, w: 1511, h: 1193, band: y2Band, spikes: y2Spikes.concat(y2Fringe), est: e2Line},
  {id: 'c3', left: 2288, top: 1489, w: 1511, h: 1192, band: y3Band, spikes: y3Spikes.concat(y3Fringe), est: e3Line},
  {id: 'c4', left: 171, top: 1489, w: 1510, h: 1192, band: y4Band, spikes: y4Spikes.concat(y4Fringe), est: e4Line}
];

// band top (held value) at a date, used as the foot of each thin spike
function bandTopAt(band, x) {
  for (let i = band.length - 1; i >= 0; i--) {
    if (band[i][0] <= x) return band[i][2];
  }
  return null;
}

const boxPlugin = {
  id: 'matlabBox',
  afterDatasetsDraw(chart) {
    const {ctx, chartArea: a, scales: {x, y}} = chart;
    ctx.save();
    ctx.strokeStyle = AXIS;
    ctx.lineWidth = 2.5;
    ctx.strokeRect(a.left, a.top, a.right - a.left, a.bottom - a.top);
    const tl = 15;
    ctx.beginPath();
    xTickValues.forEach(v => {
      const px = Math.round(x.getPixelForValue(v));
      ctx.moveTo(px, a.bottom); ctx.lineTo(px, a.bottom - tl);
      ctx.moveTo(px, a.top); ctx.lineTo(px, a.top + tl);
    });
    yTickValues.forEach(v => {
      const py = Math.round(y.getPixelForValue(v));
      ctx.moveTo(a.left, py); ctx.lineTo(a.left + tl, py);
      ctx.moveTo(a.right, py); ctx.lineTo(a.right - tl, py);
    });
    ctx.stroke();
    ctx.restore();
  }
};

panels.forEach(p => {
  const cv = document.getElementById(p.id);
  const W = PLOT_W_LEFT + p.w + PAD_RIGHT, H = PAD_TOP + p.h + XAXIS_H;
  cv.width = W; cv.height = H;
  cv.style.left = (p.left - PLOT_W_LEFT) + 'px';
  cv.style.top = (p.top - PAD_TOP) + 'px';
  cv.style.width = W + 'px'; cv.style.height = H + 'px';

  const hiData = p.band.map(r => ({x: r[0], y: r[2]}));
  const loData = p.band.map(r => ({x: r[0], y: r[1]}));
  const spikeData = p.spikes.map(s => {
    const base = bandTopAt(p.band, s[0]);
    const b = (base == null) ? zeroLevel : Math.min(base, s[1]) - 0.4;
    return {x: s[0], y: [b, s[1]]};
  });
  const estData = p.est.map(r => ({x: r[0], y: r[1]}));
  const zeroData = [{x: xTickValues[0], y: zeroLevel}, {x: xTickValues[xTickValues.length - 1], y: zeroLevel}];

  new Chart(cv, {
    type: 'line',
    data: {
      datasets: [
        {type: 'line', data: hiData, borderColor: BLUE, backgroundColor: BLUE, borderWidth: 2, pointRadius: 0, fill: '+1', spanGaps: false, stepped: 'after', order: 4},
        {type: 'line', data: loData, borderColor: BLUE, borderWidth: 2, pointRadius: 0, fill: false, spanGaps: false, stepped: 'after', order: 4},
        {type: 'bar', data: spikeData, backgroundColor: BLUE, borderWidth: 0, barThickness: 3, grouped: false, order: 3},
        {type: 'line', data: zeroData, borderColor: '#FF0000', borderWidth: 2.5, borderDash: [17, 19], pointRadius: 0, fill: false, order: 1},
        {type: 'line', data: estData, borderColor: '#000', borderWidth: 7, pointRadius: 0, fill: false, spanGaps: false, borderJoinStyle: 'round', borderCapStyle: 'round', order: 0}
      ]
    },
    options: {
      responsive: false, animation: false, devicePixelRatio: 1,
      layout: {padding: {left: 0, top: PAD_TOP, right: PAD_RIGHT, bottom: 0}},
      plugins: {legend: {display: false}, tooltip: {enabled: false}},
      scales: {
        x: {
          type: 'linear', min: xTickValues[0], max: xTickValues[xTickValues.length - 1], offset: false,
          grid: {display: false, drawTicks: false}, border: {display: false},
          afterBuildTicks: s => { s.ticks = xTickValues.map(v => ({value: v})); },
          afterFit: s => { s.height = XAXIS_H; s.paddingLeft = 0; s.paddingRight = 0; },
          ticks: {autoSkip: false, maxRotation: 0, minRotation: 0, padding: 31, color: AXIS,
                  font: {family: 'Liberation Sans, Arial, sans-serif', size: 64},
                  callback: (v, i) => xTickLabels[i]}
        },
        y: {
          type: 'linear', min: yMin, max: yMax,
          grid: {display: false, drawTicks: false}, border: {display: false},
          afterBuildTicks: s => { s.ticks = yTickValues.map(v => ({value: v})); },
          afterFit: s => { s.width = PLOT_W_LEFT; s.paddingTop = 0; s.paddingBottom = 0; },
          ticks: {autoSkip: false, padding: 26, color: AXIS,
                  font: {family: 'Liberation Sans, Arial, sans-serif', size: 64},
                  callback: (v, i) => yTickLabels[i]}
        }
      }
    },
    plugins: [boxPlugin]
  });
});
</script>
</body></html>
